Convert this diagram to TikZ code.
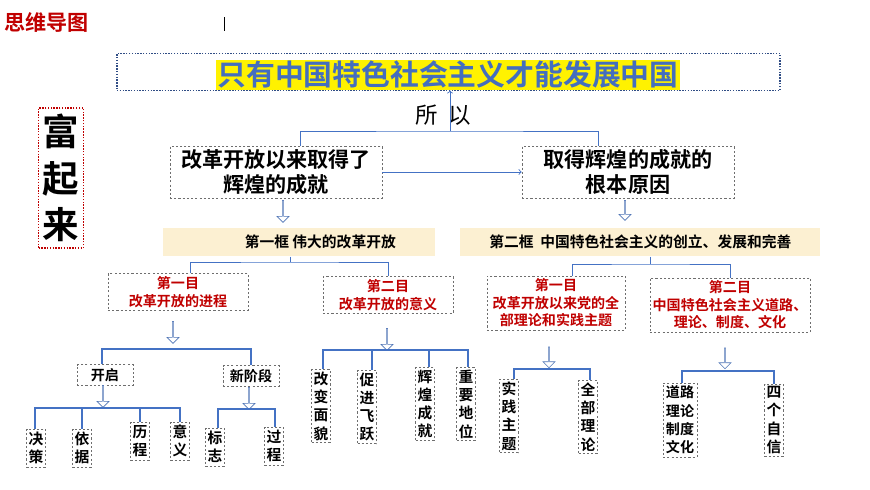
\documentclass[tikz,border=0pt]{standalone}
\usepackage{fontspec}
\setmainfont{Noto Sans CJK SC}
\newfontfamily\cjkb{Noto Sans CJK SC Bold}
\usetikzlibrary{shapes.arrows, positioning}
\definecolor{lineblue}{RGB}{68,114,196}
\definecolor{titleblue}{RGB}{68,110,190}
\definecolor{darkred}{RGB}{192,0,0}
\definecolor{beige}{RGB}{252,240,210}
\definecolor{boxgray}{RGB}{110,110,110}
\tikzset{
  dbox/.style={draw=boxgray, dashed, dash pattern=on 1.5pt off 1.5pt, fill=white, align=center, inner sep=2pt},
  leaf/.style={dbox, font=\cjkb\fontsize{10.5}{13}\selectfont, text width=10.5pt, inner sep=1.5pt},
  redbox/.style={dbox, font=\cjkb\fontsize{10}{12.5}\selectfont, text=darkred},
  bar/.style={fill=beige, font=\cjkb\fontsize{10.5}{12}\selectfont, anchor=west, minimum height=0.72cm},
  hollow/.style={single arrow, draw=lineblue!80!gray, fill=white, shape border rotate=270, minimum width=0.3cm, single arrow head extend=1.5pt, inner sep=0pt},
  bl/.style={draw=lineblue, line width=0.6pt},
  tbl/.style={draw=lineblue, line width=1.6pt}
}
\begin{document}
\begin{tikzpicture}[x=0.025cm, y=-0.025cm]
  \useasboundingbox (0,0) rectangle (870,489);
  % heading
  \node[anchor=west, text=darkred, font=\cjkb\fontsize{15}{17}\selectfont, inner sep=0pt] (head) at (4,22) {思维导图};
  \draw (224,17) -- (224,31);
  % title
  \node[draw=titleblue!70!black, densely dotted, line width=1pt, minimum width=16.575cm, minimum height=0.925cm] (tbox) at (448.5,72) {};
  \node[fill=yellow, text=titleblue, font=\cjkb\fontsize{20.5}{22}\selectfont, inner sep=1pt] (title) at (448,75) {只有中国特色社会主义才能发展中国};
  \node[draw=darkred, densely dotted, line width=1pt, font=\cjkb\fontsize{26}{33}\selectfont, align=center, inner sep=3pt, minimum height=3.5cm] (fu) at (61,178) {富\\起\\来};
  \node[font=\fontsize{16}{18}\selectfont] (suoyi) at (443,115) {所\ \ 以};
  % first row
  \node[dbox, font=\cjkb\fontsize{15}{18}\selectfont, minimum width=5.3cm, minimum height=1.3cm] (gain) at (276,172) {改革开放以来取得了\\辉煌的成就};
  \node[dbox, font=\cjkb\fontsize{15}{18}\selectfont, minimum width=5.3cm, minimum height=1.3cm] (root) at (628,172) {取得辉煌的成就的\\根本原因};
  \coordinate (top) at (450,131);
  \draw[bl, ->] (top) -- (title.south -| top);
  \draw[bl] (gain.north -| 300,0) |- (top) -| (root.north -| 598,0);
  \draw[bl, ->] (gain.east) -- (root.west);
  \node[hollow, minimum height=0.55cm] (ar1) at (283,211) {};
  \node[hollow, minimum height=0.5cm] (ar2) at (625,210) {};
  % frames
  \node[bar, minimum width=6.8cm] (frame1) at (163,242) {\hspace{1.05cm}第一框 伟大的改革开放};
  \node[bar, minimum width=9cm] (frame2) at (460,242) {第二框\ \ 中国特色社会主义的创立、发展和完善};
  % sections
  \node[redbox, minimum width=3.5cm, minimum height=0.9cm] (sec1) at (178,292) {第一目\\改革开放的进程};
  \node[redbox, minimum width=3.25cm, minimum height=0.9cm] (sec2) at (388,295) {第二目\\改革开放的意义};
  \node[redbox, minimum width=3.45cm, minimum height=1.3cm] (sec3) at (556,303) {第一目\\改革开放以来党的全\\部理论和实践主题};
  \node[redbox, minimum width=3.75cm, minimum height=1.3cm] (sec4) at (730,305) {第二目\\中国特色社会主义道路、\\理论、制度、文化};
  \draw[bl] (frame1.south -| 290,0) -- (290,262);
  \draw[bl] (sec1.north -| 190,0) |- (290,262) -| (sec2.north -| 388,0);
  \draw[bl] (frame2.south -| 650,0) -- (650,264);
  \draw[bl] (sec3.north -| 572,0) |- (650,264) -| (sec4.north -| 730,0);
  \node[hollow, minimum height=0.55cm] (ar3) at (173,332) {};
  \node[hollow, minimum height=0.55cm] (ar4) at (387,339) {};
  \node[hollow, minimum height=0.52cm] (ar5) at (549,357) {};
  \node[hollow, minimum height=0.52cm] (ar6) at (725,358) {};
  % 进程
  \node[dbox, font=\cjkb\fontsize{10}{12}\selectfont, minimum width=1.4cm, minimum height=0.52cm] (kq) at (105,375) {开启};
  \node[dbox, font=\cjkb\fontsize{10}{12}\selectfont, minimum width=1.4cm, minimum height=0.52cm] (xjd) at (251,376) {新阶段};
  \coordinate (h1) at (173,349);
  \draw[tbl] (kq.north -| 102,0) |- (h1) -| (xjd.north -| 251,0);
  \node[hollow, minimum height=0.55cm] (ar7) at (103,396) {};
  \node[hollow, minimum height=0.55cm] (ar8) at (249,398) {};
  \node[leaf, minimum height=0.95cm] (jc) at (36,448) {决\\策};
  \node[leaf, minimum height=0.95cm] (yj) at (82,448) {依\\据};
  \node[leaf, minimum height=0.95cm] (lc) at (140,441) {历\\程};
  \node[leaf, minimum height=0.95cm] (yy) at (180,441) {意\\义};
  \coordinate (h2) at (103,408);
  \draw[tbl] (jc.north -| 35,0) |- (h2) -| (yy.north -| 180,0);
  \draw[tbl] (yj.north) -- (yj.north |- h2);
  \draw[tbl] (lc.north) -- (lc.north |- h2);
  \node[leaf, minimum height=0.95cm] (bz) at (215,447) {标\\志};
  \node[leaf, minimum height=0.95cm] (gc) at (274,446) {过\\程};
  \coordinate (h3) at (249,409);
  \draw[tbl] (bz.north -| 218,0) |- (h3) -| (gc.north -| 275,0);
  % 意义
  \node[leaf, minimum height=1.7cm] (gb) at (321,406) {改\\变\\面\\貌};
  \node[leaf, minimum height=1.7cm] (cj) at (367,407) {促\\进\\飞\\跃};
  \node[leaf, minimum height=1.7cm] (hh) at (425,404) {辉\\煌\\成\\就};
  \node[leaf, minimum height=1.7cm] (zy) at (466,404) {重\\要\\地\\位};
  \coordinate (h4) at (387,350);
  \draw[tbl] (gb.north -| 323,0) |- (h4) -| (zy.north -| 468,0);
  \draw[tbl] (cj.north -| 372,0) -- (372,350);
  \draw[tbl] (hh.north -| 429,0) -- (429,350);
  % 主题
  \node[leaf, minimum height=1.7cm] (sj) at (509,416) {实\\践\\主\\题};
  \node[leaf, minimum height=1.75cm] (qb) at (588,417) {全\\部\\理\\论};
  \coordinate (h5) at (549,369);
  \draw[tbl] (sj.north -| 514,0) |- (h5) -| (qb.north -| 590,0);
  % 道路
  \node[dbox, font=\cjkb\fontsize{10}{13}\selectfont, minimum height=1.72cm] (dl) at (680,420) {道路\\理论\\制度\\文化};
  \node[leaf, minimum height=1.7cm] (sg) at (774,420) {四\\个\\自\\信};
  \coordinate (h6) at (725,371);
  \draw[tbl] (dl.north -| 682,0) |- (h6) -| (sg.north -| 774,0);
\end{tikzpicture}
\end{document}
